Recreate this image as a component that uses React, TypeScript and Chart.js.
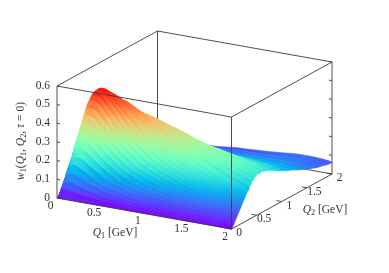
import React, { useEffect, useRef } from "react";
import { Chart, registerables } from "chart.js";

Chart.register(...registerables);

const q1Values = [0, 0.05, 0.1, 0.15, 0.2, 0.25, 0.3, 0.35, 0.4, 0.5, 0.6, 0.7, 0.8, 0.9, 1, 1.2, 1.4, 1.6, 1.8, 2];
const q2Values = [0, 0.015, 0.03, 0.045, 0.06, 0.075, 0.09, 0.105, 0.12, 0.135, 0.15, 0.165, 0.18, 0.195, 0.21, 0.23, 0.25, 0.275, 0.3, 0.35, 0.4, 0.45, 0.5, 0.6, 0.7, 0.8, 1, 1.2, 1.4, 1.6, 1.8, 2];

const w000 = [0, 0, 0, 0, 0, 0, 0, 0, 0, 0, 0, 0, 0, 0, 0, 0, 0, 0, 0, 0];
const w0015 = [0, 0.05, 0.05, 0.047, 0.043, 0.04, 0.036, 0.033, 0.03, 0.025, 0.021, 0.018, 0.016, 0.014, 0.013, 0.011, 0.009, 0.008, 0.0075, 0.007];
const w003 = [0, 0.07, 0.09, 0.088, 0.082, 0.075, 0.068, 0.062, 0.056, 0.047, 0.04, 0.034, 0.03, 0.027, 0.024, 0.02, 0.018, 0.016, 0.015, 0.014];
const w0045 = [0, 0.085, 0.13, 0.135, 0.128, 0.118, 0.108, 0.098, 0.089, 0.074, 0.063, 0.054, 0.047, 0.042, 0.038, 0.031, 0.027, 0.025, 0.023, 0.022];
const w006 = [0, 0.09, 0.165, 0.18, 0.175, 0.162, 0.148, 0.134, 0.122, 0.1, 0.085, 0.073, 0.064, 0.057, 0.051, 0.042, 0.036, 0.033, 0.031, 0.03];
const w0075 = [0, 0.09, 0.18, 0.215, 0.222, 0.213, 0.199, 0.182, 0.166, 0.137, 0.116, 0.099, 0.086, 0.076, 0.068, 0.056, 0.048, 0.042, 0.038, 0.037];
const w009 = [0, 0.09, 0.19, 0.25, 0.27, 0.265, 0.25, 0.23, 0.21, 0.175, 0.147, 0.125, 0.108, 0.096, 0.086, 0.07, 0.06, 0.052, 0.047, 0.044];
const w0105 = [0, 0.09, 0.195, 0.275, 0.31, 0.312, 0.3, 0.28, 0.258, 0.217, 0.183, 0.156, 0.135, 0.12, 0.108, 0.087, 0.075, 0.065, 0.057, 0.052];
const w012 = [0, 0.09, 0.2, 0.3, 0.35, 0.36, 0.35, 0.33, 0.305, 0.26, 0.22, 0.188, 0.163, 0.145, 0.13, 0.105, 0.09, 0.078, 0.068, 0.06];
const w0135 = [0, 0.09, 0.2, 0.305, 0.375, 0.4, 0.395, 0.378, 0.352, 0.302, 0.257, 0.221, 0.192, 0.171, 0.153, 0.123, 0.104, 0.089, 0.076, 0.067];
const w015 = [0, 0.09, 0.2, 0.31, 0.4, 0.44, 0.44, 0.425, 0.4, 0.345, 0.295, 0.255, 0.222, 0.197, 0.177, 0.142, 0.118, 0.1, 0.085, 0.074];
const w0165 = [0, 0.09, 0.2, 0.31, 0.41, 0.47, 0.48, 0.47, 0.448, 0.39, 0.337, 0.292, 0.256, 0.227, 0.203, 0.163, 0.135, 0.113, 0.096, 0.082];
const w018 = [0, 0.09, 0.2, 0.31, 0.42, 0.5, 0.52, 0.515, 0.495, 0.435, 0.38, 0.33, 0.29, 0.258, 0.23, 0.185, 0.152, 0.127, 0.107, 0.09];
const w0195 = [0, 0.09, 0.2, 0.31, 0.42, 0.505, 0.54, 0.545, 0.53, 0.475, 0.42, 0.368, 0.325, 0.289, 0.258, 0.208, 0.171, 0.142, 0.118, 0.097];
const w021 = [0, 0.09, 0.2, 0.31, 0.42, 0.51, 0.56, 0.575, 0.565, 0.515, 0.46, 0.405, 0.36, 0.32, 0.287, 0.232, 0.19, 0.158, 0.13, 0.104];
const w023 = [0, 0.088, 0.195, 0.305, 0.415, 0.505, 0.56, 0.578, 0.575, 0.535, 0.49, 0.44, 0.397, 0.355, 0.32, 0.258, 0.21, 0.174, 0.144, 0.115];
const w025 = [0, 0.085, 0.19, 0.3, 0.41, 0.5, 0.56, 0.58, 0.58, 0.55, 0.515, 0.47, 0.43, 0.39, 0.355, 0.285, 0.23, 0.19, 0.157, 0.125];
const w0275 = [0, 0.082, 0.182, 0.287, 0.395, 0.485, 0.545, 0.57, 0.575, 0.55, 0.52, 0.48, 0.44, 0.41, 0.38, 0.31, 0.252, 0.209, 0.172, 0.138];
const w030 = [0, 0.08, 0.175, 0.275, 0.38, 0.47, 0.53, 0.56, 0.565, 0.55, 0.525, 0.495, 0.46, 0.43, 0.4, 0.335, 0.275, 0.228, 0.188, 0.15];
const w035 = [0, 0.07, 0.155, 0.245, 0.34, 0.42, 0.48, 0.515, 0.53, 0.525, 0.515, 0.49, 0.465, 0.445, 0.425, 0.37, 0.31, 0.26, 0.215, 0.174];
const w040 = [0, 0.06, 0.135, 0.215, 0.295, 0.37, 0.43, 0.47, 0.49, 0.5, 0.49, 0.47, 0.45, 0.435, 0.42, 0.38, 0.33, 0.28, 0.235, 0.195];
const w045 = [0, 0.05, 0.115, 0.185, 0.255, 0.32, 0.375, 0.415, 0.445, 0.46, 0.465, 0.455, 0.44, 0.425, 0.41, 0.38, 0.335, 0.29, 0.25, 0.21];
const w050 = [0, 0.04, 0.1, 0.16, 0.22, 0.28, 0.33, 0.37, 0.4, 0.43, 0.44, 0.44, 0.43, 0.415, 0.4, 0.37, 0.33, 0.295, 0.26, 0.22];
const w060 = [0, 0.03, 0.075, 0.12, 0.165, 0.21, 0.25, 0.285, 0.31, 0.345, 0.36, 0.365, 0.365, 0.36, 0.355, 0.335, 0.31, 0.285, 0.255, 0.22];
const w070 = [0, 0.024, 0.06, 0.095, 0.13, 0.165, 0.2, 0.225, 0.25, 0.28, 0.3, 0.31, 0.315, 0.315, 0.31, 0.3, 0.285, 0.265, 0.24, 0.21];
const w080 = [0, 0.02, 0.048, 0.077, 0.105, 0.135, 0.16, 0.185, 0.205, 0.23, 0.25, 0.26, 0.27, 0.27, 0.27, 0.265, 0.255, 0.24, 0.22, 0.197];
const w100 = [0, 0.012, 0.032, 0.052, 0.072, 0.09, 0.108, 0.125, 0.14, 0.16, 0.175, 0.185, 0.195, 0.2, 0.205, 0.205, 0.205, 0.195, 0.185, 0.165];
const w120 = [0, 0.008, 0.022, 0.036, 0.05, 0.063, 0.076, 0.088, 0.1, 0.115, 0.127, 0.137, 0.145, 0.152, 0.157, 0.16, 0.162, 0.158, 0.15, 0.14];
const w140 = [0, 0.006, 0.016, 0.026, 0.036, 0.045, 0.055, 0.064, 0.072, 0.085, 0.095, 0.103, 0.11, 0.115, 0.12, 0.125, 0.128, 0.127, 0.122, 0.113];
const w160 = [0, 0.004, 0.011, 0.019, 0.026, 0.033, 0.04, 0.047, 0.053, 0.064, 0.072, 0.079, 0.084, 0.089, 0.093, 0.099, 0.102, 0.104, 0.098, 0.09];
const w180 = [0, 0.003, 0.008, 0.014, 0.02, 0.025, 0.03, 0.035, 0.04, 0.049, 0.056, 0.061, 0.066, 0.07, 0.073, 0.078, 0.082, 0.088, 0.085, 0.074];
const w200 = [0, 0.002, 0.006, 0.011, 0.015, 0.019, 0.023, 0.027, 0.03, 0.033, 0.036, 0.04, 0.045, 0.05, 0.052, 0.058, 0.065, 0.074, 0.074, 0.063];
const surface = [w000, w0015, w003, w0045, w006, w0075, w009, w0105, w012, w0135, w015, w0165, w018, w0195, w021, w023, w025, w0275, w030, w035, w040, w045, w050, w060, w070, w080, w100, w120, w140, w160, w180, w200];

const zTicks = [0, 0.1, 0.2, 0.3, 0.4, 0.5, 0.6];
const zTickLabels = ["0", "0.1", "0.2", "0.3", "0.4", "0.5", "0.6"];
const q1Ticks = [0, 0.5, 1, 1.5, 2];
const q2Ticks = [0, 0.5, 1, 1.5, 2];
const axisTickLabels = ["0", "0.5", "1", "1.5", "2"];

const Z_MAX = 0.6;
const Q_MAX = 2;
const COLOR_MAX = 0.585;

// Orthographic view: maps (Q1, Q2, w) onto the flat plotting plane.
const project = (q1: number, q2: number, z: number) => ({
  x: 57 + (q1 / Q_MAX) * 174.5 + (q2 / Q_MAX) * 100.5,
  y: 198 + (q1 / Q_MAX) * 31 - (q2 / Q_MAX) * 55 - (z / Z_MAX) * 112,
});

const palette = (v: number) => {
  const x = Math.min(1, Math.max(0, v));
  const r = Math.min(1, Math.abs(2 * x - 0.5));
  const g = Math.sin(x * Math.PI);
  const b = Math.cos((x * Math.PI) / 2);
  return `rgb(${Math.round(r * 255)},${Math.round(g * 255)},${Math.round(b * 255)})`;
};

const LINE = "#3c3c3c";
const TEXT = "#333333";
const SERIF = '"Liberation Serif", serif';
const FONT_SIZE = 11.5;

const segment = (a: { x: number; y: number }, b: { x: number; y: number }, width = 0.9) => ({
  data: [a, b],
  showLine: true,
  borderColor: LINE,
  borderWidth: width,
  pointRadius: 0,
  fill: false,
});

type Run = { t: string; i?: boolean; sub?: boolean };

function App() {
  const ref = useRef<HTMLCanvasElement>(null);
  useEffect(() => {
    document.body.style.margin = "0";
    const canvas = ref.current!;
    const g2d = canvas.getContext("2d")!;
    const front: any[] = [];
    const back: any[] = [];

    // visible box edges
    front.push(segment(project(0, 0, Z_MAX), project(Q_MAX, 0, Z_MAX)));
    front.push(segment(project(Q_MAX, 0, Z_MAX), project(Q_MAX, Q_MAX, Z_MAX)));
    front.push(segment(project(Q_MAX, Q_MAX, Z_MAX), project(0, Q_MAX, Z_MAX)));
    front.push(segment(project(0, Q_MAX, Z_MAX), project(0, 0, Z_MAX)));
    front.push(segment(project(0, 0, 0), project(0, 0, Z_MAX)));
    front.push(segment(project(Q_MAX, 0, 0), project(Q_MAX, 0, Z_MAX)));
    front.push(segment(project(Q_MAX, Q_MAX, 0), project(Q_MAX, Q_MAX, Z_MAX)));
    front.push(segment(project(0, 0, 0), project(Q_MAX, 0, 0)));
    front.push(segment(project(Q_MAX, 0, 0), project(Q_MAX, Q_MAX, 0)));
    zTicks.forEach((z) => {
      front.push(segment(project(0, 0, z), project(0.035, 0, z)));
      front.push(segment(project(Q_MAX, Q_MAX, z), project(Q_MAX - 0.035, Q_MAX, z)));
    });
    q2Ticks.forEach((q) => front.push(segment(project(Q_MAX, q, 0), project(Q_MAX - 0.06, q, 0))));

    // surface strips between neighbouring Q2 rows, nearest to the viewer first
    // (chart.js paints the first dataset last)
    const strips: any[] = [];
    for (let j = 0; j < q2Values.length - 1; j++) {
      const near = q1Values.map((q, i) => project(q, q2Values[j], surface[j][i]));
      const far = q1Values.map((q, i) => project(q, q2Values[j + 1], surface[j + 1][i]));
      const xs = q1Values.map((_, i) => (near[i].x + far[i].x) / 2);
      const x0 = xs[0];
      const x1 = xs[xs.length - 1];
      const grad = g2d.createLinearGradient(x0, 0, x1, 0);
      q1Values.forEach((_, i) => {
        const avg = (surface[j][i] + surface[j + 1][i]) / 2;
        grad.addColorStop((xs[i] - x0) / (x1 - x0), palette(avg / COLOR_MAX));
      });
      const outline = [...near, ...far.slice().reverse(), near[0]];
      strips.push({
        data: outline,
        showLine: true,
        borderColor: grad,
        backgroundColor: grad,
        borderWidth: 0.6,
        pointRadius: 0,
        tension: 0.25,
        fill: "shape",
      });
    }

    // hidden box edges, behind the surface
    back.push(segment(project(0, Q_MAX, 0), project(0, Q_MAX, Z_MAX)));
    back.push(segment(project(0, 0, 0), project(0, Q_MAX, 0)));
    back.push(segment(project(0, Q_MAX, 0), project(Q_MAX, Q_MAX, 0)));

    const runsWidth = (ctx: CanvasRenderingContext2D, runs: Run[], size: number) => {
      let w = 0;
      runs.forEach((r) => {
        ctx.font = `${r.i ? "italic " : ""}${r.sub ? size * 0.72 : size}px ${SERIF}`;
        w += ctx.measureText(r.t).width;
      });
      return w;
    };
    const drawRuns = (ctx: CanvasRenderingContext2D, runs: Run[], size: number) => {
      let x = -runsWidth(ctx, runs, size) / 2;
      runs.forEach((r) => {
        ctx.font = `${r.i ? "italic " : ""}${r.sub ? size * 0.72 : size}px ${SERIF}`;
        ctx.fillText(r.t, x, r.sub ? 2.4 : 0);
        x += ctx.measureText(r.t).width;
      });
    };

    const labels = {
      id: "axisText",
      afterDraw(chart: any) {
        const { ctx, scales } = chart;
        const px = (v: number) => scales.x.getPixelForValue(v);
        const py = (v: number) => scales.y.getPixelForValue(v);
        ctx.save();
        ctx.fillStyle = TEXT;
        ctx.font = `${FONT_SIZE}px ${SERIF}`;
        ctx.textBaseline = "middle";
        ctx.textAlign = "right";
        zTicks.forEach((z, k) => {
          const p = project(0, 0, z);
          ctx.fillText(zTickLabels[k], px(p.x - 7), py(p.y - 0.5));
        });
        ctx.textAlign = "center";
        q1Ticks.forEach((q, k) => {
          const p = project(q, 0, 0);
          ctx.fillText(axisTickLabels[k], px(p.x - 6.5), py(p.y + 7.5));
        });
        q2Ticks.forEach((q, k) => {
          const p = project(Q_MAX, q, 0);
          ctx.fillText(axisTickLabels[k], px(p.x + 7.5), py(p.y + 4));
        });
        ctx.textAlign = "left";
        ctx.textBaseline = "middle";
        ctx.save();
        ctx.translate(px(115), py(233));
        drawRuns(ctx, [{ t: "Q", i: true }, { t: "1", sub: true }, { t: " [GeV]" }], FONT_SIZE);
        ctx.restore();
        ctx.save();
        ctx.translate(px(325), py(210));
        drawRuns(ctx, [{ t: "Q", i: true }, { t: "2", sub: true }, { t: " [GeV]" }], FONT_SIZE);
        ctx.restore();
        ctx.save();
        ctx.translate(px(21), py(141));
        ctx.rotate(-Math.PI / 2);
        drawRuns(
          ctx,
          [
            { t: "w", i: true },
            { t: "1", sub: true },
            { t: "(" },
            { t: "Q", i: true },
            { t: "1", sub: true },
            { t: ", " },
            { t: "Q", i: true },
            { t: "2", sub: true },
            { t: ", " },
            { t: "τ", i: true },
            { t: " = 0)" },
          ],
          FONT_SIZE
        );
        ctx.restore();
        ctx.restore();
      },
    };

    const chart = new Chart(canvas, {
      type: "scatter",
      data: { datasets: [...front, ...strips, ...back] },
      options: {
        animation: false,
        responsive: false,
        layout: { padding: 0 },
        plugins: { legend: { display: false }, tooltip: { enabled: false } },
        scales: {
          x: { type: "linear", min: 0, max: 389, display: false },
          y: { type: "linear", min: 0, max: 273, reverse: true, display: false },
        },
      },
      plugins: [labels],
    } as any);
    return () => chart.destroy();
  }, []);
  return <canvas ref={ref} width={389} height={273} style={{ display: "block" }} />;
}

export default App;
